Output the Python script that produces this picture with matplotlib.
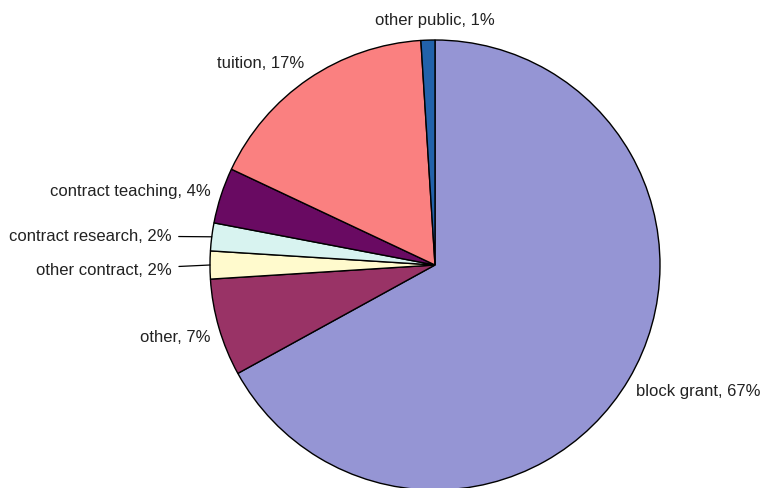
import numpy as np
import matplotlib
matplotlib.use("Agg")
import matplotlib.pyplot as plt

plt.rcParams['font.family'] = ['Liberation Sans', 'DejaVu Sans']

# ─── Data ─────────────────────────────────────────────────────────────
labels = ['block grant', 'other', 'other contract', 'contract research',
          'contract teaching', 'tuition', 'other public']
shares = [67, 7, 2, 2, 4, 17, 1]
colors = ['#9595d4', '#993366', '#fffacd', '#d8f3f0',
          '#690a62', '#fa8080', '#2262aa']

W, H = 764, 489
CX, CY, R = 435, H - 266, 225

fig = plt.figure(figsize=(W / 100, H / 100), dpi=100)
ax = fig.add_axes([0, 0, 1, 1])

wedges, _ = ax.pie(shares, colors=colors, startangle=90, counterclock=False,
                   center=(CX, CY), radius=R, frame=True,
                   wedgeprops=dict(edgecolor='black', linewidth=1.0))
ax.set_xlim(0, W)
ax.set_ylim(0, H)
ax.set_aspect('equal')
ax.axis('off')

# label placement: (distance factor, ha, nudge dx/dy in px, leader offset)
place = {
    'block grant': (1.06, 'left', (-4, -4), None),
    'other': (1.04, 'right', (0, -6), None),
    'other contract': (None, 'right', (0, 0), (-38, -5)),
    'contract research': (None, 'right', (0, 0), (-40, 1)),
    'contract teaching': (1.05, 'right', (0, 1), None),
    'tuition': (1.1, 'right', (8, -2), None),
    'other public': (1.1, 'center', (8, -2), None),
}

FS = 12.0
for w, lab, s in zip(wedges, labels, shares):
    mid = np.deg2rad((w.theta1 + w.theta2) / 2)
    d, ha, nudge, lead = place[lab]
    txt = f'{lab}, {s}%'
    if lead is None:
        x = CX + R * d * np.cos(mid) + nudge[0]
        y = CY + R * d * np.sin(mid) + nudge[1]
        ax.text(x, y, txt, ha=ha, va='center', fontsize=FS, color='#222222')
    else:
        ex = CX + R * np.cos(mid)
        ey = CY + R * np.sin(mid)
        ax.annotate(txt, xy=(ex, ey), xytext=(ex + lead[0], ey + lead[1]),
                    ha=ha, va='center', fontsize=FS, color='#222222',
                    arrowprops=dict(arrowstyle='-', color='black', lw=0.9,
                                    shrinkA=3, shrinkB=0))

fig.savefig('out.png', dpi=100)
